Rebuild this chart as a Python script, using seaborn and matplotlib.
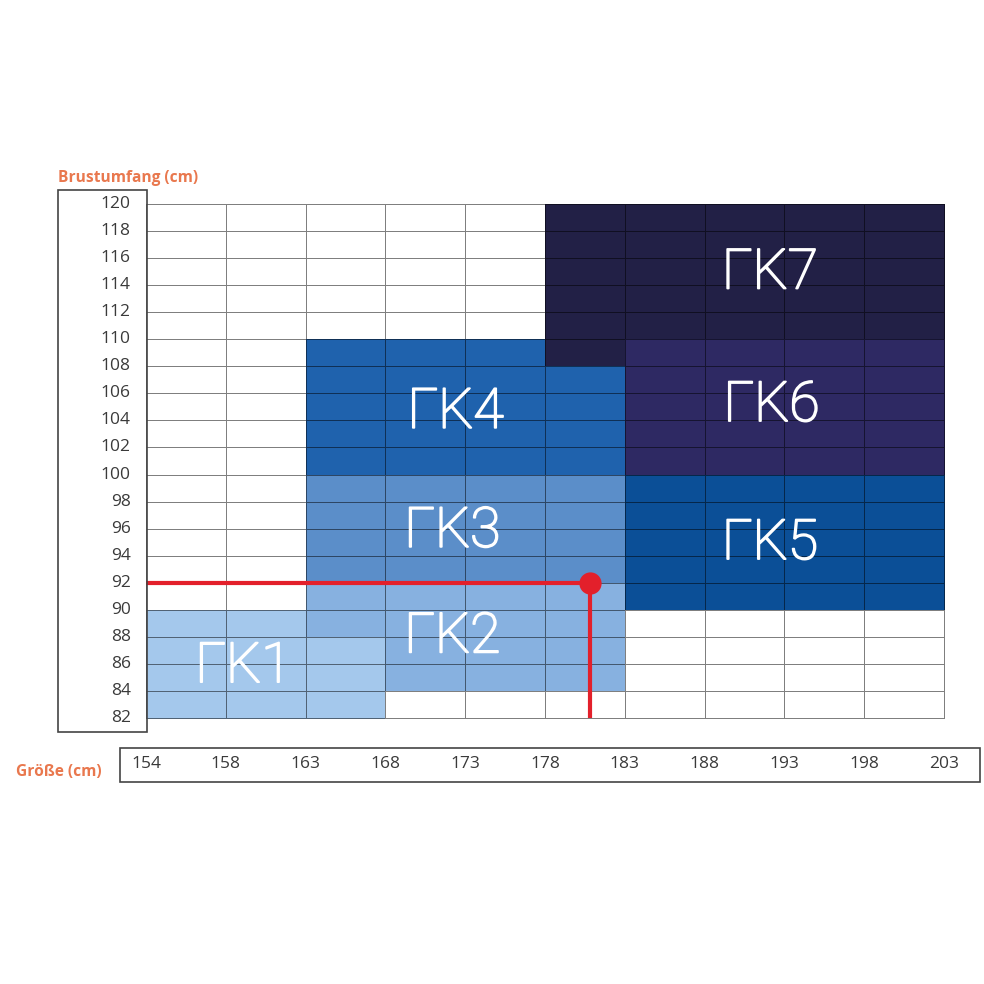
import matplotlib
matplotlib.use('Agg')
import matplotlib.pyplot as plt
import matplotlib.patheffects as pe
import numpy as np
import seaborn as sns
from matplotlib.colors import ListedColormap
from matplotlib.patches import Rectangle

# Größe (height) boundaries and Brustumfang (chest) boundaries
heights = [154, 158, 163, 168, 173, 178, 183, 188, 193, 198, 203]
chest = list(range(82, 122, 2))

# size zones: rectangles as (height from, height to, chest from, chest to)
zone_names = ['1', '2', '3', '4', '5', '6', '7']
zone_rects = [
    [(154, 163, 82, 90), (163, 168, 82, 88)],
    [(163, 168, 88, 92), (168, 183, 84, 92)],
    [(163, 183, 92, 100)],
    [(163, 178, 100, 110), (178, 183, 100, 108)],
    [(183, 203, 90, 100)],
    [(183, 203, 100, 110)],
    [(178, 203, 110, 120), (178, 183, 108, 110)],
]
zone_colors = ['#a4c8ec', '#87b1e0', '#5b8ec9', '#1f62ad', '#0b4f97', '#2e2963', '#222046']
label_height = [159.1, 172.2, 172.2, 172.4, 192.1, 192.2, 192.1]
label_chest = [85.8, 88.0, 95.8, 104.6, 94.9, 105.1, 114.9]

# example reading: 181 cm / 92 cm
marker_height = 180.8
marker_chest = 92

sns.set_style('white')
plt.rcParams['font.family'] = ['Open Sans', 'DejaVu Sans']

top = chest[-1]
n_rows = len(chest) - 1
n_cols = len(heights) - 1
grid = np.zeros((n_rows, n_cols))
for k, rects in enumerate(zone_rects):
    for h0, h1, c0, c1 in rects:
        i0, i1 = heights.index(h0), heights.index(h1)
        r0, r1 = (top - c1) // 2, (top - c0) // 2
        grid[r0:r1, i0:i1] = k + 1


def hx(h):
    return np.interp(h, heights, np.arange(len(heights)))


def cy(c):
    return (top - c) / 2


fig = plt.figure(figsize=(9.84, 9.84), dpi=100)
ax = fig.add_axes([0.1484, 0.2703, 0.8109, 0.5224])
cmap = ListedColormap(['white'] + zone_colors)
sns.heatmap(grid, cmap=cmap, vmin=-0.5, vmax=len(zone_colors) + 0.5, cbar=False,
            linewidths=0.6, linecolor=(0, 0, 0, 0.5), ax=ax)
ax.collections[0].set_clip_on(False)

# zone labels
for name, h, c in zip(zone_names, label_height, label_chest):
    ax.text(hx(h), cy(c), 'ΓK' + name, color='white', fontsize=40,
            ha='center', va='center', family=['Roboto', 'DejaVu Sans'], weight='light',
            path_effects=[pe.withStroke(linewidth=1.3, foreground='white')])

# red reading line
red = '#e3202b'
mx, my = hx(marker_height), cy(marker_chest)
ax.plot([0, mx], [my, my], color=red, lw=3, solid_capstyle='butt')
ax.plot([mx, mx], [my, n_rows], color=red, lw=3, solid_capstyle='butt')
ax.plot(mx, my, 'o', color=red, ms=15)

ax.set_xticks(range(len(heights)))
ax.set_xticklabels([str(h) for h in heights], rotation=0)
ax.set_yticks(range(len(chest)))
ax.set_yticklabels([str(c) for c in chest[::-1]], rotation=0)
ax.tick_params(axis='x', length=0, pad=27, labelsize=12.5, labelcolor='#3a3a3a')
ax.tick_params(axis='y', length=0, pad=11, labelsize=12.5, labelcolor='#3a3a3a')
for lab in ax.get_yticklabels():
    lab.set_horizontalalignment('right')
ax.set_xlim(0, n_cols)
ax.set_ylim(n_rows, 0)

# frames around the scales
fig.patches.append(Rectangle((0.0589, 0.2561), 0.0904, 0.5508, transform=fig.transFigure,
                             fill=False, edgecolor='#444444', lw=1.2))
fig.patches.append(Rectangle((0.122, 0.2053), 0.874, 0.0346, transform=fig.transFigure,
                             fill=False, edgecolor='#444444', lw=1.2))

orange = '#e9784e'
fig.text(0.0589, 1 - 178 / 984, 'Brustumfang (cm)', color=orange, fontsize=11.2,
         weight='bold', va='center')
fig.text(0.016, 1 - 772 / 984, 'Größe (cm)', color=orange, fontsize=11.2,
         weight='bold', va='center')

fig.savefig('out.png', dpi=100)
